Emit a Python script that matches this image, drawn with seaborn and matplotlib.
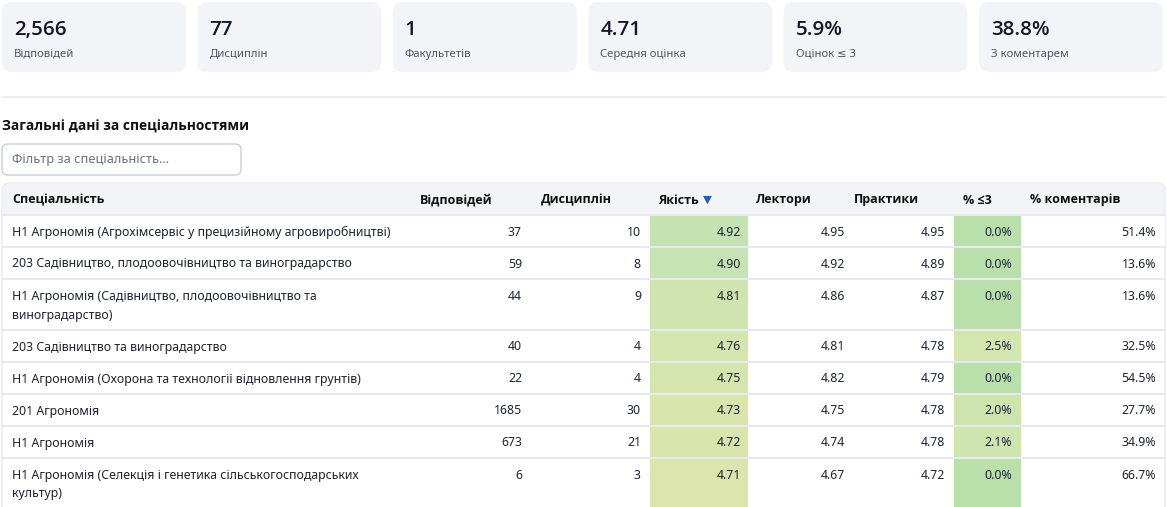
import textwrap
import numpy as np
import matplotlib
matplotlib.use("Agg")
import matplotlib.pyplot as plt
from matplotlib.patches import FancyBboxPatch, Rectangle
from matplotlib.colors import LinearSegmentedColormap, Normalize
from matplotlib import font_manager
import seaborn as sns

# ---------------- data ----------------
kpi_values = ["2,566", "77", "1", "4.71", "5.9%", "38.8%"]
kpi_labels = ["Відповідей", "Дисциплін", "Факультетів", "Середня оцінка", "Оцінок ≤ 3", "З коментарем"]

section_title = "Загальні дані за спеціальностями"
filter_placeholder = "Фільтр за спеціальність..."

headers = ["Спеціальність", "Відповідей", "Дисциплін", "Якість", "Лектори", "Практики", "% ≤3", "% коментарів"]

specialties = [
    "Н1 Агрономія (Агрохімсервіс у прецизійному агровиробництві)",
    "203 Садівництво, плодоовочівництво та виноградарство",
    "Н1 Агрономія (Садівництво, плодоовочівництво та виноградарство)",
    "203 Садівництво та виноградарство",
    "Н1 Агрономія (Охорона та технології відновлення грунтів)",
    "201 Агрономія",
    "Н1 Агрономія",
    "Н1 Агрономія (Селекція і генетика сільськогосподарських культур)",
]
responses = [37, 59, 44, 40, 22, 1685, 673, 6]
disciplines = [10, 8, 9, 4, 4, 30, 21, 3]
quality = [4.92, 4.90, 4.81, 4.76, 4.75, 4.73, 4.72, 4.71]
lecturers = [4.95, 4.92, 4.86, 4.81, 4.82, 4.75, 4.74, 4.67]
practice = [4.95, 4.89, 4.87, 4.78, 4.79, 4.78, 4.78, 4.72]
low_pct = [0.0, 0.0, 0.0, 2.5, 0.0, 2.0, 2.1, 0.0]
comment_pct = [51.4, 13.6, 13.6, 32.5, 54.5, 27.7, 34.9, 66.7]

# ---------------- style ----------------
sns.set_theme(style="white")
names_weights = {}
for f in font_manager.fontManager.ttflist:
    names_weights.setdefault(f.name, set()).add(f.weight if isinstance(f.weight, int) else 400)
REG = "Noto Sans"
BOLD = REG
for cand in ["Noto Sans", "Open Sans", "Lato", "Liberation Sans", "DejaVu Sans"]:
    if cand in names_weights and max(names_weights[cand]) >= 600:
        BOLD = cand
        break
plt.rcParams["font.family"] = [REG, "DejaVu Sans"]

W, H = 1167, 507
fig = plt.figure(figsize=(W / 100, H / 100), dpi=100)
ax = fig.add_axes([0, 0, 1, 1])
ax.set_xlim(0, W)
ax.set_ylim(H, 0)
ax.axis("off")

PX = 72 / 100  # points per pixel

TXT = "#1f2333"
MUTED = "#4b5563"
CARD_BG = "#f3f4f8"
LINE = "#e7e9ee"
BF = [BOLD, "DejaVu Sans"]

# ---------------- KPI cards ----------------
card_w, card_gap, card_x0 = 184, 11.4, 2
for i, (v, lab) in enumerate(zip(kpi_values, kpi_labels)):
    x = card_x0 + i * (card_w + card_gap)
    ax.add_patch(FancyBboxPatch((x, 2), card_w, 70, boxstyle="round,pad=0,rounding_size=10",
                                fc=CARD_BG, ec="none"))
    ax.text(x + 12, 30, v, fontsize=20.5 * PX, fontweight="semibold", color="#111827",
            va="center", ha="left", family=BF)
    ax.text(x + 12, 54, lab, fontsize=11.3 * PX, color=MUTED, va="center", ha="left")

# divider
ax.plot([2, 1165], [97, 97], color=LINE, lw=1.2)

# section title
ax.text(2, 127, section_title, fontsize=13.7 * PX, fontweight="bold", color="#111111",
        va="center", ha="left", family=BF)

# filter input
ax.add_patch(FancyBboxPatch((2, 144), 239, 31, boxstyle="round,pad=0,rounding_size=6",
                            fc="white", ec="#c9cce0", lw=1.0))
ax.text(12, 160, filter_placeholder, fontsize=12.8 * PX, color="#6b7280", va="center", ha="left")

# ---------------- table ----------------
tx0, tx1 = 2, 1165
head_top, head_bot = 183, 215

ax.add_patch(FancyBboxPatch((tx0, head_top), tx1 - tx0, H + 20 - head_top,
                            boxstyle="round,pad=0,rounding_size=8", fc="white", ec=LINE, lw=1.0))
ax.add_patch(FancyBboxPatch((tx0 + 0.5, head_top + 0.5), tx1 - tx0 - 1, 40,
                            boxstyle="round,pad=0,rounding_size=8", fc=CARD_BG, ec="none"))
ax.add_patch(Rectangle((tx0 + 0.5, head_bot), tx1 - tx0 - 1, 30, fc="white", ec="none"))
ax.plot([tx0, tx1], [head_bot, head_bot], color=LINE, lw=1.5)

header_x = [12, 420, 541, 658, 756, 854, 963, 1030]
hy = 200
for hx, h in zip(header_x, headers):
    ax.text(hx, hy, h, fontsize=12.5 * PX, fontweight="bold", color="#111111",
            va="center", ha="left", family=BF)
fig.canvas.draw()
renderer = fig.canvas.get_renderer()
q_txt = [t for t in ax.texts if t.get_text() == "Якість"][0]
bb = q_txt.get_window_extent(renderer).transformed(ax.transData.inverted())
ax.text(bb.x1 + 4, hy, "▼", fontsize=11.5 * PX, color="#1f5fbf", va="center", ha="left",
        family=["DejaVu Sans"])

# colour scales (green = good)
q_cmap = LinearSegmentedColormap.from_list("q", ["#f3e8a6", "#bae2b6"])
q_norm = Normalize(vmin=4.5, vmax=5.0)
p_cmap = LinearSegmentedColormap.from_list("p", ["#b9e0ab", "#ecebb5"])
p_norm = Normalize(vmin=0.0, vmax=5.0)

num_right = [522, 641, 741, 845, 945, 1012, 1156]
q_cell = (650, 748)
p_cell = (954, 1021)

FS = 12.3 * PX
y = head_bot
for i, name in enumerate(specialties):
    lines = textwrap.wrap(name, 60)
    rh = 32 if len(lines) == 1 else 51
    y0, y1 = y, y + rh
    ax.add_patch(Rectangle((q_cell[0], y0 + 1), q_cell[1] - q_cell[0], rh - 2,
                           fc=q_cmap(q_norm(quality[i])), ec="none"))
    ax.add_patch(Rectangle((p_cell[0], y0 + 1), p_cell[1] - p_cell[0], rh - 2,
                           fc=p_cmap(p_norm(low_pct[i])), ec="none"))
    first = y0 + 17 if len(lines) == 1 else y0 + 17.5
    for k, ln in enumerate(lines):
        ax.text(12, first + k * 18.5, ln, fontsize=FS, color=TXT, va="center", ha="left")
    vals = [f"{responses[i]}", f"{disciplines[i]}", f"{quality[i]:.2f}", f"{lecturers[i]:.2f}",
            f"{practice[i]:.2f}", f"{low_pct[i]:.1f}%", f"{comment_pct[i]:.1f}%"]
    for xr, s in zip(num_right, vals):
        ax.text(xr, first, s, fontsize=FS, color=TXT, va="center", ha="right")
    if y1 < H:
        ax.plot([tx0, tx1], [y1, y1], color=LINE, lw=1.5)
    y = y1

fig.savefig("out.png", dpi=100, facecolor="white")
